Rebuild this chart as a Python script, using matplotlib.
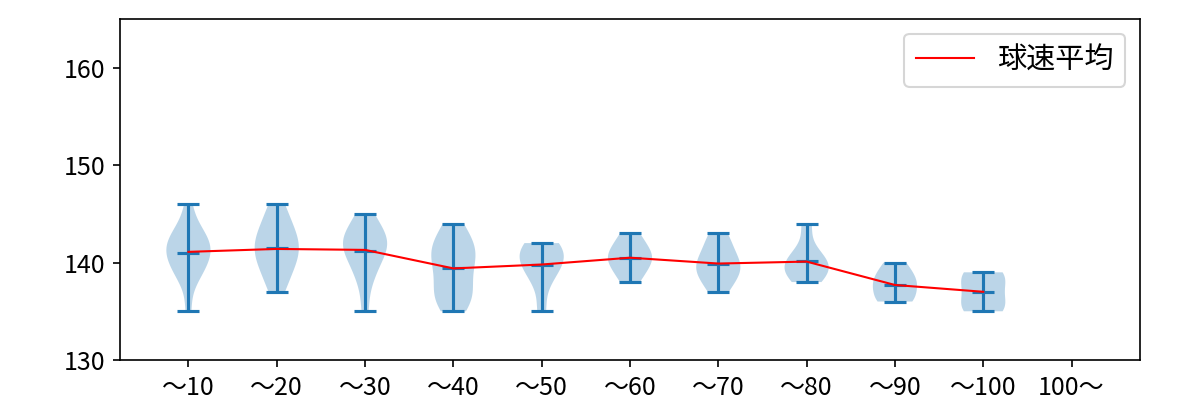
import numpy as np
import matplotlib
matplotlib.use("Agg")
import matplotlib.pyplot as plt

plt.rcParams['font.family'] = ['Noto Sans CJK JP', 'DejaVu Sans']

# pitch-count bins
labels = ["～10", "～20", "～30", "～40", "～50", "～60", "～70", "～80", "～90", "～100", "100～"]

# ball speeds (km/h) per bin
speeds = [
    [135, 139, 138, 139, 140, 140, 141, 141, 141, 142, 142, 142, 143, 143, 144, 146],
    [137, 138, 139, 140, 140, 141, 141, 142, 142, 143, 143, 144, 145, 146],
    [135, 138, 139, 140, 141, 141, 142, 142, 142, 143, 143, 144, 145],
    [135, 136, 136, 137, 137, 138, 139, 140, 140, 141, 141, 142, 142, 143, 144],
    [135, 138, 139, 140, 140, 141, 141, 142, 142],
    [138, 139, 140, 140, 141, 141, 142, 143],
    [137, 138, 139, 139, 140, 140, 141, 142, 143],
    [138, 139, 139, 140, 140, 141, 144],
    [136, 136, 137, 138, 138, 139, 140],
    [135, 135, 136, 137, 138, 139, 139],
]
mean_speed = [141.1, 141.4, 141.3, 139.4, 139.8, 140.5, 139.9, 140.1, 137.7, 137.0]

fig, ax = plt.subplots(figsize=(8, 8 / 3), dpi=150)
fig.subplots_adjust(left=0.1, right=0.95, top=0.9525, bottom=0.1)

pos = np.arange(1, len(speeds) + 1)
ax.violinplot(speeds, positions=pos, showmeans=True)
ax.plot(pos, mean_speed, color="red", lw=1, label="球速平均")

ax.set_xticks(np.arange(1, len(labels) + 1))
ax.set_xticklabels(labels, fontsize=12)
ax.tick_params(axis="y", labelsize=12)
ax.set_xlim(0.225, 11.775)
ax.set_ylim(130, 165)
ax.set_yticks([130, 140, 150, 160])
ax.legend(loc="upper right", fontsize=14)

fig.savefig("out.png", dpi=150)
